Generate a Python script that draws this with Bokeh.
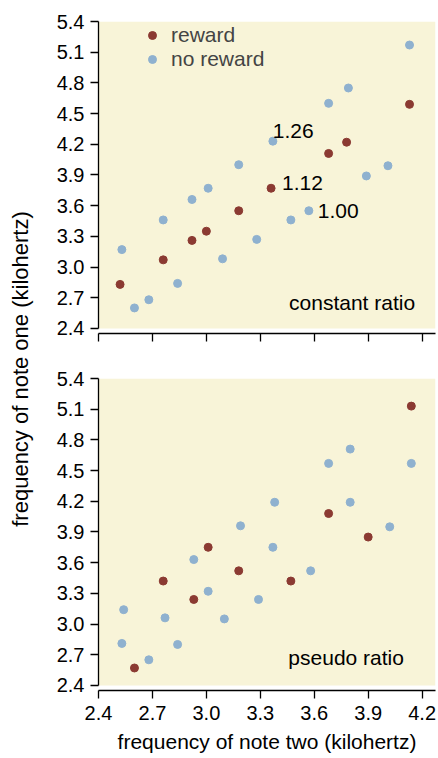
from math import pi
from bokeh.plotting import figure
from bokeh.layouts import row, column
from bokeh.models import (BoxAnnotation, Label, Legend, LegendItem, FixedTicker,
                          CustomLabelingPolicy)
from bokeh.embed import file_html
from bokeh.resources import INLINE

# ---------------- data ----------------
x_ticks = [2.4, 2.7, 3.0, 3.3, 3.6, 3.9, 4.2]
x_tick_labels = ["2.4", "2.7", "3.0", "3.3", "3.6", "3.9", "4.2"]
y_ticks = [2.4, 2.7, 3.0, 3.3, 3.6, 3.9, 4.2, 4.5, 4.8, 5.1, 5.4]
y_tick_labels = ["2.4", "2.7", "3.0", "3.3", "3.6", "3.9", "4.2", "4.5", "4.8", "5.1", "5.4"]

# constant ratio panel
const_reward_x = [2.52, 2.76, 2.92, 3.00, 3.18, 3.36, 3.68, 3.78, 4.13]
const_reward_y = [2.83, 3.07, 3.26, 3.35, 3.55, 3.77, 4.11, 4.22, 4.59]
const_noreward_x = [2.53, 2.76, 2.92, 3.01, 3.18, 3.37, 3.68, 3.79, 4.13,
                    2.60, 2.68, 2.84, 3.09, 3.28, 3.47, 3.57, 3.89, 4.01]
const_noreward_y = [3.17, 3.46, 3.66, 3.77, 4.00, 4.23, 4.60, 4.75, 5.17,
                    2.60, 2.68, 2.84, 3.08, 3.27, 3.46, 3.55, 3.89, 3.99]
ratio_labels = ["1.26", "1.12", "1.00"]

# pseudo ratio panel
pseudo_reward_x = [2.60, 2.76, 2.93, 3.01, 3.18, 3.47, 3.68, 3.90, 4.14]
pseudo_reward_y = [2.57, 3.42, 3.24, 3.75, 3.52, 3.42, 4.08, 3.85, 5.13]
pseudo_noreward_x = [2.53, 2.54, 2.68, 2.77, 2.84, 2.93, 3.01, 3.10, 3.19,
                     3.29, 3.37, 3.38, 3.58, 3.68, 3.80, 3.80, 4.02, 4.14]
pseudo_noreward_y = [2.81, 3.14, 2.65, 3.06, 2.80, 3.63, 3.32, 3.05, 3.96,
                     3.24, 3.75, 4.19, 3.52, 4.57, 4.71, 4.19, 3.95, 4.57]

# ---------------- style ----------------
FONT = "Liberation Sans"
RED = "#8b3a32"
BLUE = "#8fb1cf"
CREAM = "#f8f4d8"
TICK_FS = "20px"
TEXT_FS = "21px"

X_RANGE = (2.4, 4.2745)
Y_RANGE = (2.35, 5.4)
STRIP_W = 34

hide_all_labels = CustomLabelingPolicy(code="""
for (let i = 0; i < indices.size; i++) { indices.unset(i) }
return indices
""")


def make_panel(rx, ry, nx, ny, top_border, bottom_border, show_x_labels):
    p = figure(frame_width=337, frame_height=312,
               x_range=X_RANGE, y_range=Y_RANGE,
               min_border_left=98 - STRIP_W, min_border_right=2,
               min_border_top=top_border, min_border_bottom=bottom_border,
               output_backend="svg", toolbar_location=None)
    p.background_fill_color = "white"
    p.border_fill_color = "white"
    p.outline_line_color = None
    p.grid.visible = False
    p.add_layout(BoxAnnotation(bottom=2.4, top=5.4, fill_color=CREAM,
                               fill_alpha=1.0, line_color=None, level="underlay"))
    for ax in (p.xaxis[0], p.yaxis[0]):
        ax.axis_line_width = 1.3
        ax.major_tick_line_width = 1.3
        ax.major_tick_out = 8
        ax.major_tick_in = 0
        ax.minor_tick_line_color = None
        ax.major_label_text_font = FONT
        ax.major_label_text_font_size = TICK_FS
        ax.major_label_text_color = "black"
        ax.axis_label_text_font = FONT
        ax.axis_label_text_font_size = TEXT_FS
        ax.axis_label_text_font_style = "normal"
        ax.axis_label_text_color = "black"
    p.xaxis.ticker = FixedTicker(ticks=x_ticks)
    p.yaxis.ticker = FixedTicker(ticks=y_ticks)
    p.xaxis.major_label_overrides = dict(zip(x_ticks, x_tick_labels))
    p.yaxis.major_label_overrides = dict(zip(y_ticks, y_tick_labels))
    p.yaxis.bounds = (2.4, 5.4)
    p.yaxis.major_label_standoff = 6
    p.xaxis.major_label_standoff = 7
    if show_x_labels:
        p.xaxis.axis_label = "frequency of note two (kilohertz)"
        p.xaxis.axis_label_standoff = 7
    else:
        p.xaxis.major_label_policy = hide_all_labels
    rb = p.scatter(nx, ny, size=8, fill_color=BLUE, line_color=BLUE)
    rr = p.scatter(rx, ry, size=8, fill_color=RED, line_color=RED)
    return p, rr, rb


TOP1, BOT1, TOP2, BOT2 = 21, 32, 13, 68
p1, rr1, rb1 = make_panel(const_reward_x, const_reward_y,
                          const_noreward_x, const_noreward_y, TOP1, BOT1, False)
p2, rr2, rb2 = make_panel(pseudo_reward_x, pseudo_reward_y,
                          pseudo_noreward_x, pseudo_noreward_y, TOP2, BOT2, True)

legend = Legend(items=[LegendItem(label="reward", renderers=[rr1]),
                       LegendItem(label="no reward", renderers=[rb1])],
                location=(44, 262), border_line_color=None,
                background_fill_alpha=0, padding=0, margin=0, spacing=-2,
                label_text_font=FONT, label_text_font_size=TEXT_FS,
                glyph_width=20, glyph_height=22, label_height=22,
                label_standoff=9)
p1.add_layout(legend)

lab_kw = dict(text_font=FONT, text_font_size=TEXT_FS, text_color="black",
              text_baseline="alphabetic", text_align="left")
for txt, lx, ly in zip(ratio_labels, [3.369, 3.421, 3.62], [4.33, 3.818, 3.544]):
    p1.add_layout(Label(x=lx, y=ly, text=txt, **lab_kw))
p1.add_layout(Label(x=3.46, y=2.655, text="constant ratio", **lab_kw))
p2.add_layout(Label(x=3.456, y=2.67, text="pseudo ratio", **lab_kw))

# shared y-axis label strip
H = TOP1 + 312 + BOT1 + TOP2 + 312 + BOT2
yl = figure(width=STRIP_W, height=H, x_range=(0, STRIP_W), y_range=(0, H),
            min_border=0, output_backend="svg", toolbar_location=None)
yl.axis.visible = False
yl.grid.visible = False
yl.outline_line_color = None
yl.add_layout(Label(x=20, y=H - 368.5, text="frequency of note one (kilohertz)",
                    angle=pi / 2, text_align="center", text_baseline="middle",
                    text_font=FONT, text_font_size="22px", text_color="black"))

layout = row(yl, column(p1, p2, spacing=0), spacing=0)

open("out.html", "w").write(file_html(layout, INLINE))
